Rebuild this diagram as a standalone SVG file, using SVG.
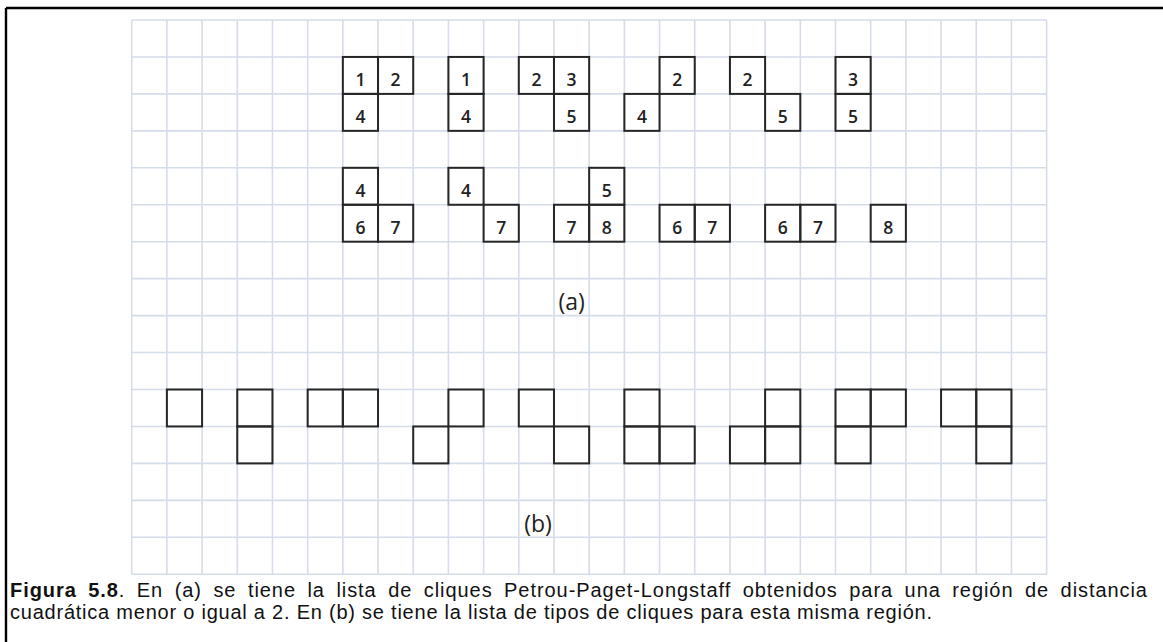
<svg xmlns="http://www.w3.org/2000/svg" width="1163" height="642" viewBox="0 0 1163 642">
<style>
.bg{fill:#ffffff}
.frame{stroke:#000;stroke-width:2.4;fill:none}
.grid{stroke:#d5dcea;stroke-width:1.6;fill:none}
.cell{fill:none;stroke:#262626;stroke-width:2}
.num{font-family:"Open Sans","Liberation Sans",sans-serif;font-size:17.5px;font-weight:600;fill:#222;text-anchor:middle}
.lbl{font-family:"Open Sans","Liberation Sans",sans-serif;font-size:23px;fill:#222;text-anchor:middle}
.cap{font-family:"Liberation Sans",Arial,sans-serif;font-size:20px;fill:#111}
</style>
<rect class="bg" x="0" y="0" width="1163" height="642"/>
<path class="frame" d="M6 8H1163M6 8V642"/>
<g id="grid">
<path class="grid" d="M131.7 20V574.25M166.89 20V574.25M202.08 20V574.25M237.27 20V574.25M272.46 20V574.25M307.65 20V574.25M342.84 20V574.25M378.03 20V574.25M413.22 20V574.25M448.41 20V574.25M483.6 20V574.25M518.79 20V574.25M553.98 20V574.25M589.17 20V574.25M624.36 20V574.25M659.55 20V574.25M694.74 20V574.25M729.93 20V574.25M765.12 20V574.25M800.31 20V574.25M835.5 20V574.25M870.69 20V574.25M905.88 20V574.25M941.07 20V574.25M976.26 20V574.25M1011.45 20V574.25M1046.64 20V574.25"/>
<path class="grid" d="M131.7 20H1046.64M131.7 56.95H1046.64M131.7 93.9H1046.64M131.7 130.85H1046.64M131.7 167.8H1046.64M131.7 204.75H1046.64M131.7 241.7H1046.64M131.7 278.65H1046.64M131.7 315.6H1046.64M131.7 352.55H1046.64M131.7 389.5H1046.64M131.7 426.45H1046.64M131.7 463.4H1046.64M131.7 500.35H1046.64M131.7 537.3H1046.64M131.7 574.25H1046.64"/>
</g>
<g id="connectors"/>
<g id="clique-a1">
<rect class="cell" x="342.84" y="56.95" width="35.19" height="36.95"/><text class="num" x="360.44" y="85.95">1</text>
<rect class="cell" x="378.03" y="56.95" width="35.19" height="36.95"/><text class="num" x="395.63" y="85.95">2</text>
<rect class="cell" x="342.84" y="93.9" width="35.19" height="36.95"/><text class="num" x="360.44" y="122.9">4</text>
</g>
<g id="clique-a2">
<rect class="cell" x="448.41" y="56.95" width="35.19" height="36.95"/><text class="num" x="466.01" y="85.95">1</text>
<rect class="cell" x="448.41" y="93.9" width="35.19" height="36.95"/><text class="num" x="466.01" y="122.9">4</text>
</g>
<g id="clique-a3">
<rect class="cell" x="518.79" y="56.95" width="35.19" height="36.95"/><text class="num" x="536.39" y="85.95">2</text>
<rect class="cell" x="553.98" y="56.95" width="35.19" height="36.95"/><text class="num" x="571.58" y="85.95">3</text>
<rect class="cell" x="553.98" y="93.9" width="35.19" height="36.95"/><text class="num" x="571.58" y="122.9">5</text>
</g>
<g id="clique-a4">
<rect class="cell" x="659.55" y="56.95" width="35.19" height="36.95"/><text class="num" x="677.15" y="85.95">2</text>
<rect class="cell" x="624.36" y="93.9" width="35.19" height="36.95"/><text class="num" x="641.96" y="122.9">4</text>
</g>
<g id="clique-a5">
<rect class="cell" x="729.93" y="56.95" width="35.19" height="36.95"/><text class="num" x="747.53" y="85.95">2</text>
<rect class="cell" x="765.12" y="93.9" width="35.19" height="36.95"/><text class="num" x="782.72" y="122.9">5</text>
</g>
<g id="clique-a6">
<rect class="cell" x="835.5" y="56.95" width="35.19" height="36.95"/><text class="num" x="853.1" y="85.95">3</text>
<rect class="cell" x="835.5" y="93.9" width="35.19" height="36.95"/><text class="num" x="853.1" y="122.9">5</text>
</g>
<g id="clique-a7">
<rect class="cell" x="342.84" y="167.8" width="35.19" height="36.95"/><text class="num" x="360.44" y="196.8">4</text>
<rect class="cell" x="342.84" y="204.75" width="35.19" height="36.95"/><text class="num" x="360.44" y="233.75">6</text>
<rect class="cell" x="378.03" y="204.75" width="35.19" height="36.95"/><text class="num" x="395.63" y="233.75">7</text>
</g>
<g id="clique-a8">
<rect class="cell" x="448.41" y="167.8" width="35.19" height="36.95"/><text class="num" x="466.01" y="196.8">4</text>
<rect class="cell" x="483.6" y="204.75" width="35.19" height="36.95"/><text class="num" x="501.2" y="233.75">7</text>
</g>
<g id="clique-a9">
<rect class="cell" x="589.17" y="167.8" width="35.19" height="36.95"/><text class="num" x="606.77" y="196.8">5</text>
<rect class="cell" x="553.98" y="204.75" width="35.19" height="36.95"/><text class="num" x="571.58" y="233.75">7</text>
<rect class="cell" x="589.17" y="204.75" width="35.19" height="36.95"/><text class="num" x="606.77" y="233.75">8</text>
</g>
<g id="clique-a10">
<rect class="cell" x="659.55" y="204.75" width="35.19" height="36.95"/><text class="num" x="677.15" y="233.75">6</text>
<rect class="cell" x="694.74" y="204.75" width="35.19" height="36.95"/><text class="num" x="712.34" y="233.75">7</text>
</g>
<g id="clique-a11">
<rect class="cell" x="765.12" y="204.75" width="35.19" height="36.95"/><text class="num" x="782.72" y="233.75">6</text>
<rect class="cell" x="800.31" y="204.75" width="35.19" height="36.95"/><text class="num" x="817.91" y="233.75">7</text>
</g>
<g id="clique-a12">
<rect class="cell" x="870.69" y="204.75" width="35.19" height="36.95"/><text class="num" x="888.29" y="233.75">8</text>
</g>
<g id="label-a"><text class="lbl" x="571.6" y="310">(a)</text></g>
<g id="type-b1">
<rect class="cell" x="166.89" y="389.5" width="35.19" height="36.95"/>
</g>
<g id="type-b2">
<rect class="cell" x="237.27" y="389.5" width="35.19" height="36.95"/>
<rect class="cell" x="237.27" y="426.45" width="35.19" height="36.95"/>
</g>
<g id="type-b3">
<rect class="cell" x="307.65" y="389.5" width="35.19" height="36.95"/>
<rect class="cell" x="342.84" y="389.5" width="35.19" height="36.95"/>
</g>
<g id="type-b4">
<rect class="cell" x="448.41" y="389.5" width="35.19" height="36.95"/>
<rect class="cell" x="413.22" y="426.45" width="35.19" height="36.95"/>
</g>
<g id="type-b5">
<rect class="cell" x="518.79" y="389.5" width="35.19" height="36.95"/>
<rect class="cell" x="553.98" y="426.45" width="35.19" height="36.95"/>
</g>
<g id="type-b6">
<rect class="cell" x="624.36" y="389.5" width="35.19" height="36.95"/>
<rect class="cell" x="624.36" y="426.45" width="35.19" height="36.95"/>
<rect class="cell" x="659.55" y="426.45" width="35.19" height="36.95"/>
</g>
<g id="type-b7">
<rect class="cell" x="765.12" y="389.5" width="35.19" height="36.95"/>
<rect class="cell" x="729.93" y="426.45" width="35.19" height="36.95"/>
<rect class="cell" x="765.12" y="426.45" width="35.19" height="36.95"/>
</g>
<g id="type-b8">
<rect class="cell" x="835.5" y="389.5" width="35.19" height="36.95"/>
<rect class="cell" x="870.69" y="389.5" width="35.19" height="36.95"/>
<rect class="cell" x="835.5" y="426.45" width="35.19" height="36.95"/>
</g>
<g id="type-b9">
<rect class="cell" x="941.07" y="389.5" width="35.19" height="36.95"/>
<rect class="cell" x="976.26" y="389.5" width="35.19" height="36.95"/>
<rect class="cell" x="976.26" y="426.45" width="35.19" height="36.95"/>
</g>
<g id="label-b"><text class="lbl" x="538" y="532">(b)</text></g>
<g id="caption">
<text class="cap" x="10" y="597" word-spacing="5" textLength="1137" lengthAdjust="spacing"><tspan font-weight="bold">Figura 5.8</tspan>. En (a) se tiene la lista de cliques Petrou-Paget-Longstaff obtenidos para una región de distancia</text>
<text class="cap" x="10" y="619" textLength="922" lengthAdjust="spacing">cuadrática menor o igual a 2. En (b) se tiene la lista de tipos de cliques para esta misma región.</text>
</g>
</svg>
